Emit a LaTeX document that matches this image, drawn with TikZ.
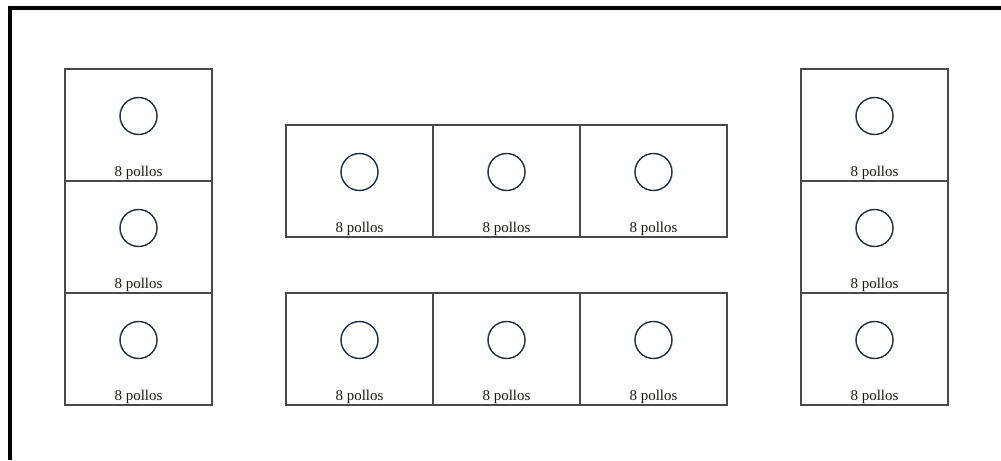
\documentclass[tikz,border=0pt]{standalone}
\usepackage{fontspec}
\setmainfont{Liberation Serif}
\usepackage{xcolor}
\usetikzlibrary{positioning}
\definecolor{edge}{HTML}{4A4A4A}
\definecolor{ring}{HTML}{1F3040}
\definecolor{ink}{HTML}{1A1410}

\begin{document}
\begin{tikzpicture}[
  cell/.style={draw=edge, line width=0.6pt, minimum width=2.94cm,
    minimum height=2.24cm, inner sep=0pt, outer sep=0pt},
  hole/.style={circle, draw=ring, line width=0.8pt, minimum size=0.74cm,
    inner sep=0pt},
  tag/.style={font=\fontsize{8.5}{9}\selectfont, text=ink, inner sep=0.8pt,
    anchor=south},
  frame/.style={line width=1.8pt, draw=black}
]
\useasboundingbox (0,0) rectangle (20.02,9.2);
\draw[frame] (0.2,0) -- (0.2,9.04) -- (20.02,9.04);
% left column
\node[cell] (l1) at (2.77,6.70) {};
\node[cell, below=0pt of l1] (l2) {};
\node[cell, below=0pt of l2] (l3) {};
% middle, upper row
\node[cell] (m1) at (7.19,5.58) {};
\node[cell, right=0pt of m1] (m2) {};
\node[cell, right=0pt of m2] (m3) {};
% middle, lower row
\node[cell, below=1.12cm of m1] (b1) {};
\node[cell, right=0pt of b1] (b2) {};
\node[cell, right=0pt of b2] (b3) {};
% right column
\node[cell] (r1) at (17.49,6.70) {};
\node[cell, below=0pt of r1] (r2) {};
\node[cell, below=0pt of r2] (r3) {};
% drinkers
\node[hole] (hl1) at ([yshift=0.18cm]l1.center) {};
\node[hole] (hl2) at ([yshift=0.18cm]l2.center) {};
\node[hole] (hl3) at ([yshift=0.18cm]l3.center) {};
\node[hole] (hm1) at ([yshift=0.18cm]m1.center) {};
\node[hole] (hm2) at ([yshift=0.18cm]m2.center) {};
\node[hole] (hm3) at ([yshift=0.18cm]m3.center) {};
\node[hole] (hb1) at ([yshift=0.18cm]b1.center) {};
\node[hole] (hb2) at ([yshift=0.18cm]b2.center) {};
\node[hole] (hb3) at ([yshift=0.18cm]b3.center) {};
\node[hole] (hr1) at ([yshift=0.18cm]r1.center) {};
\node[hole] (hr2) at ([yshift=0.18cm]r2.center) {};
\node[hole] (hr3) at ([yshift=0.18cm]r3.center) {};
% counts
\node[tag] (tl1) at (l1.south) {8 pollos};
\node[tag] (tl2) at (l2.south) {8 pollos};
\node[tag] (tl3) at (l3.south) {8 pollos};
\node[tag] (tm1) at (m1.south) {8 pollos};
\node[tag] (tm2) at (m2.south) {8 pollos};
\node[tag] (tm3) at (m3.south) {8 pollos};
\node[tag] (tb1) at (b1.south) {8 pollos};
\node[tag] (tb2) at (b2.south) {8 pollos};
\node[tag] (tb3) at (b3.south) {8 pollos};
\node[tag] (tr1) at (r1.south) {8 pollos};
\node[tag] (tr2) at (r2.south) {8 pollos};
\node[tag] (tr3) at (r3.south) {8 pollos};
\end{tikzpicture}
\end{document}
